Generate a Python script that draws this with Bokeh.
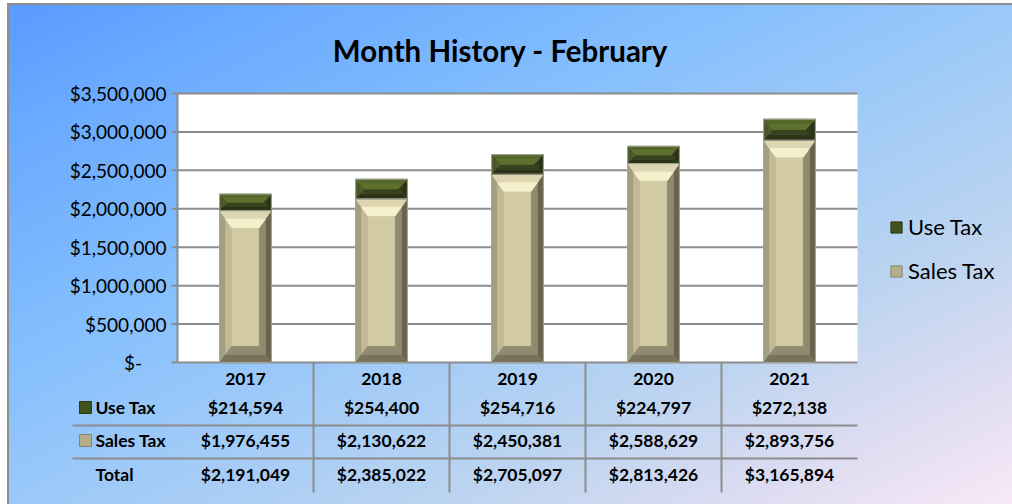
import numpy as np
from bokeh.plotting import figure
from bokeh.models import Range1d, Legend, LegendItem
from bokeh.layouts import column
from bokeh.embed import file_html
from bokeh.resources import INLINE
from bokeh.core.properties import value

# ---------------- data ----------------
years = ["2017", "2018", "2019", "2020", "2021"]
use_tax = [214594, 254400, 254716, 224797, 272138]
sales_tax = [1976455, 2130622, 2450381, 2588629, 2893756]
totals = [2191049, 2385022, 2705097, 2813426, 3165894]
y_ticks = [0, 500000, 1000000, 1500000, 2000000, 2500000, 3000000, 3500000]
series_names = ["Use Tax", "Sales Tax"]
row_labels = ["Use Tax", "Sales Tax", "Total"]
title_text = "Month History - February"

# ---------------- layout constants (canvas px) ----------------
W, H = 1012, 504
FL, FR, FT, FB = 177, 857, 93, 362          # plot area
TABLE_LEFT, TABLE_BOTTOM = 72, 492
HDR_Y, ROW_Y = 378, [407, 440, 474]
HLINES = [425, 458]
FONT = "Lato"
GRID = "#8c8c8c"
N = len(years)
xc = [i + 1 for i in range(N)]
XPX = N / (FR - FL)                  # data units per px (x)
YPX = y_ticks[-1] / (FB - FT)        # data units per px (y)
HW = 0.19


def xd(px):
    return 0.5 + (px - FL) * XPX


def yd(py):
    return (FB - py) * YPX


SALES_COL = dict(face="#d1caa2", top_o="#ddd6b0", top_i="#f5efcc",
                 left_o="#a39e80", left_i="#c0b994", right_o="#66634e",
                 right_i="#8e8a6d", bottom_o="#77735a", bottom_i="#8f8a6f")
USE_COL = dict(face="#45552a", top_o="#566829", top_i="#5d702e",
               left_o="#475725", left_i="#4d5e27", right_o="#2a3215",
               right_i="#323b19", bottom_o="#2b3316", bottom_i="#37411d")
KEY_FILL = ["#42521e", "#b5ae8a"]
KEY_LINE = ["#2e3816", "#8a8468"]


def bevel_parts(c, b, t, s_px, dt_px, db_px):
    L, R = c - HW, c + HW
    sx, dty, dby = s_px * XPX, dt_px * YPX, db_px * YPX

    def at(f):
        return L + f * sx, R - f * sx, t - f * dty, b + f * dby

    parts = {}
    for k, nm in ((0, "o"), (1, "i")):
        L0, R0, T0, B0 = at(k / 2)
        L1, R1, T1, B1 = at((k + 1) / 2)
        parts["top_" + nm] = ([L0, R0, R1, L1], [T0, T0, T1, T1])
        parts["bottom_" + nm] = ([L0, R0, R1, L1], [B0, B0, B1, B1])
        parts["left_" + nm] = ([L0, L0, L1, L1], [B0, T0, T1, B1])
        parts["right_" + nm] = ([R0, R0, R1, R1], [B0, T0, T1, B1])
    Lf, Rf, Tf, Bf = at(1)
    parts["face"] = ([Lf, Rf, Rf, Lf], [Bf, Bf, Tf, Tf])
    return parts


def draw_series(p, bottoms, tops, colors, kind):
    acc = {k: ([], []) for k in colors}
    for c, b, t in zip(xc, bottoms, tops):
        h_px = (t - b) / YPX
        if kind == "sales":
            s, dt, db = 12, min(17, h_px / 2), min(16, h_px / 2)
        else:
            d = min(12, h_px / 2)
            s, dt, db = d, d, d
        for k, (xs, ys) in bevel_parts(c, b, t, s, dt, db).items():
            acc[k][0].append(xs)
            acc[k][1].append(ys)
    order = ["face", "left_o", "left_i", "right_o", "right_i",
             "bottom_o", "bottom_i", "top_o", "top_i"]
    for k in order:
        p.patches(acc[k][0], acc[k][1], fill_color=colors[k],
                  line_color=colors[k], line_width=0.8)
    p.quad(left=[c - HW for c in xc], right=[c + HW for c in xc],
           bottom=bottoms, top=tops, fill_color=None,
           line_color="#a4a49a", line_width=1)


p = figure(width=W, height=H, output_backend="svg", toolbar_location=None,
           x_range=Range1d(xd(0), xd(W)), y_range=Range1d(yd(H), yd(0)),
           x_axis_location=None, y_axis_location=None, min_border=0)
p.background_fill_color = None
p.border_fill_color = None
p.outline_line_color = None
p.grid.grid_line_color = None

# plot area + grid
p.quad(left=[0.5], right=[N + 0.5], bottom=[y_ticks[0]], top=[y_ticks[-1]],
       fill_color="white", line_color=None)
p.segment(x0=[0.5] * len(y_ticks), x1=[N + 0.5] * len(y_ticks),
          y0=y_ticks, y1=y_ticks, line_color=GRID, line_width=2)

# bars
draw_series(p, [0] * N, sales_tax, SALES_COL, "sales")
draw_series(p, sales_tax, [s + u for s, u in zip(sales_tax, use_tax)],
            USE_COL, "use")

# y axis
p.segment(x0=[0.5], x1=[0.5], y0=[y_ticks[0]], y1=[y_ticks[-1]],
          line_color=GRID, line_width=2)
p.segment(x0=[0.5 - 6 * XPX] * len(y_ticks), x1=[0.5] * len(y_ticks),
          y0=y_ticks, y1=y_ticks, line_color=GRID, line_width=2)
ylabels = ["${:,}".format(v) if v else "$-" + "\u00a0" * 5 for v in y_ticks]
p.text(x=[xd(166)] * len(y_ticks), y=y_ticks, text=ylabels,
       text_align="right", text_baseline="middle", text_font=value(FONT),
       text_font_size="19px", text_color="black")

# title
p.text(x=[xd(500)], y=[yd(50)], text=[title_text], text_align="center",
       text_baseline="middle", text_font=value(FONT), text_font_style="bold",
       text_font_size="29.5px", text_color="black")

# data table
p.segment(x0=[c + 0.5 for c in xc[:-1]], x1=[c + 0.5 for c in xc[:-1]],
          y0=[yd(FB)] * (N - 1), y1=[yd(TABLE_BOTTOM)] * (N - 1),
          line_color=GRID, line_width=2)
p.segment(x0=[xd(TABLE_LEFT)] * len(HLINES), x1=[N + 0.5] * len(HLINES),
          y0=[yd(v) for v in HLINES], y1=[yd(v) for v in HLINES],
          line_color=GRID, line_width=2)

fmt = lambda v: "${:,}".format(v)
cells_x, cells_y, cells_t = [], [], []
for py, vals in ((HDR_Y, years), (ROW_Y[0], [fmt(v) for v in use_tax]),
                 (ROW_Y[1], [fmt(v) for v in sales_tax]),
                 (ROW_Y[2], [fmt(v) for v in totals])):
    for c, t in zip(xc, vals):
        cells_x.append(c)
        cells_y.append(yd(py))
        cells_t.append(t)
p.text(x=cells_x, y=cells_y, text=cells_t, text_align="center",
       text_baseline="middle", text_font=value(FONT),
       text_font_style="bold", text_font_size="17.5px", text_color="black")

p.text(x=[xd(95)] * 3, y=[yd(v) for v in ROW_Y], text=row_labels,
       text_align="left", text_baseline="middle", text_font=value(FONT),
       text_font_style="bold", text_font_size="17.5px", text_color="black")
keys = p.rect(x=[xd(85)] * 2, y=[yd(v) for v in ROW_Y[:2]], width=12,
              height=12, width_units="screen", height_units="screen",
              fill_color=KEY_FILL, line_color=KEY_LINE)

# legend (uses the key glyphs)
legend = Legend(items=[LegendItem(label=series_names[i], renderers=[keys],
                                  index=i) for i in range(2)],
                location=(889, 220), padding=0, margin=0, spacing=17,
                glyph_width=14, glyph_height=14, label_standoff=5,
                label_text_font=FONT, label_text_font_size="22px",
                label_text_color="black",
                background_fill_alpha=0, border_line_color=None)
p.add_layout(legend)

bg = ("linear-gradient(to bottom right, #5a98ff 0%, #68a8ff 12%, #86c0fd 38%, "
      "#a2cbf7 55%, #bcd4f0 72%, #dcdcf1 86%, #f8e8f7 100%)")
layout = column(p, spacing=0,
                styles={"background": bg,
                        "box-shadow": "inset 7px 3px 0 0 #ffffff, inset 9px 5px 0 0 #8e8e8e"})

open("out.html", "w").write(file_html(layout, INLINE))
